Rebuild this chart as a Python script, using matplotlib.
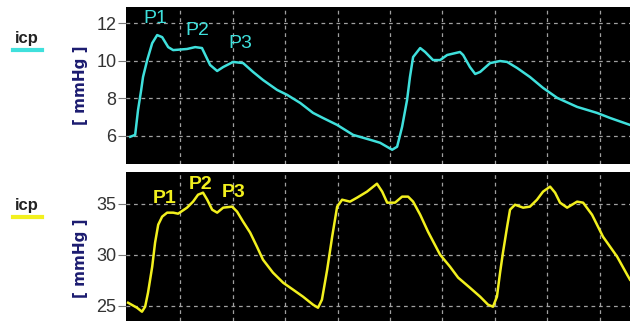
import numpy as np
import matplotlib
matplotlib.use("Agg")
from matplotlib import pyplot as plt

# time in seconds, pressure in mmHg
t_top = [0.008, 0.027, 0.038, 0.050, 0.057, 0.073, 0.092, 0.111, 0.130, 0.153,
         0.172, 0.225, 0.256, 0.282, 0.313, 0.340, 0.363, 0.401, 0.439, 0.477,
         0.515, 0.569, 0.607, 0.657, 0.706, 0.744, 0.798, 0.859, 0.924, 0.962,
         1.008, 1.027, 1.046, 1.065, 1.076, 1.088, 1.115, 1.134, 1.164, 1.191,
         1.218, 1.267, 1.279, 1.305, 1.325, 1.344, 1.382, 1.420, 1.447, 1.485,
         1.534, 1.584, 1.638, 1.714, 1.790, 1.840, 1.916]
icp_top = [5.95, 6.05, 7.38, 8.44, 9.13, 10.03, 10.93, 11.36, 11.25, 10.72,
           10.56, 10.62, 10.72, 10.67, 9.77, 9.45, 9.66, 9.93, 9.87, 9.40,
           8.97, 8.44, 8.18, 7.75, 7.22, 6.95, 6.58, 6.05, 5.79, 5.63,
           5.26, 5.42, 6.48, 7.91, 9.13, 10.19, 10.67, 10.46, 10.03, 10.03,
           10.30, 10.46, 10.30, 9.66, 9.29, 9.40, 9.87, 9.98, 9.93, 9.61,
           9.13, 8.55, 8.02, 7.54, 7.22, 6.95, 6.58]

t_bot = [0.000, 0.034, 0.053, 0.065, 0.076, 0.092, 0.103, 0.115, 0.130, 0.149,
         0.172, 0.191, 0.225, 0.248, 0.267, 0.286, 0.302, 0.321, 0.340, 0.363,
         0.397, 0.416, 0.439, 0.466, 0.492, 0.515, 0.553, 0.592, 0.630, 0.668,
         0.706, 0.725, 0.740, 0.760, 0.779, 0.798, 0.817, 0.847, 0.874, 0.912,
         0.950, 0.970, 0.989, 1.019, 1.046, 1.069, 1.088, 1.115, 1.145, 1.191,
         1.229, 1.260, 1.305, 1.344, 1.374, 1.393, 1.408, 1.420, 1.431, 1.447,
         1.458, 1.477, 1.508, 1.534, 1.561, 1.584, 1.611, 1.630, 1.649, 1.676,
         1.714, 1.737, 1.771, 1.813, 1.867, 1.905, 1.916]
icp_bot = [25.29, 24.80, 24.41, 24.90, 26.27, 28.82, 31.18, 32.94, 33.73, 34.12,
           34.12, 34.02, 34.61, 35.20, 35.88, 36.08, 35.39, 34.41, 34.12, 34.61,
           34.71, 34.22, 33.24, 32.16, 30.78, 29.51, 28.24, 27.25, 26.57, 25.88,
           25.10, 24.80, 25.59, 28.53, 31.76, 34.71, 35.39, 35.20, 35.59, 36.18,
           36.96, 36.18, 35.10, 35.10, 35.69, 35.69, 35.20, 33.92, 32.25, 30.00,
           28.82, 27.75, 26.76, 25.88, 25.10, 24.90, 25.88, 28.24, 30.20, 32.75,
           34.41, 34.90, 34.61, 34.71, 35.39, 36.18, 36.67, 36.08, 35.10, 34.61,
           35.20, 35.10, 33.92, 31.76, 29.80, 28.04, 27.55]

yticks_top = [6, 8, 10, 12]
yticks_bot = [25, 30, 35]
peak_labels = ["P1", "P2", "P3"]

cyan = "#3fe0dc"
yellow = "#f2f01e"
navy = "#1c1c70"
narrow = ["Liberation Sans", "DejaVu Sans"]

fig = plt.figure(figsize=(6.3, 3.21), dpi=100)
ax1 = fig.add_axes([0.2, 0.489, 0.8, 0.489])
ax2 = fig.add_axes([0.2, 0.0, 0.8, 0.464])


def style_panel(ax, yticks, ylim):
    ax.set_facecolor("black")
    ax.set_xlim(-0.008, 1.916)
    ax.set_ylim(*ylim)
    ax.set_yticks(yticks)
    ax.set_xticks(np.arange(0.2, 1.9, 0.2))
    ax.set_xticklabels([])
    ax.tick_params(axis="x", length=0)
    ax.tick_params(axis="y", length=6, color="#777777", labelcolor="#333333",
                   labelsize=13, pad=1)
    for lab in ax.get_yticklabels():
        lab.set_family(narrow)
    ax.grid(True, color="#a0a0a0", linestyle=(0, (3, 3)), linewidth=0.9)
    for sp in ax.spines.values():
        sp.set_visible(False)


# top panel
style_panel(ax1, yticks_top, (4.5, 12.85))
ax1.plot(t_top, icp_top, color=cyan, linewidth=1.8)
for lab, x, y in zip(peak_labels, [0.103, 0.263, 0.427], [12.25, 11.6, 10.9]):
    ax1.text(x, y, lab, color=cyan, fontsize=14, ha="center", va="center",
             family=narrow)

# bottom panel
style_panel(ax2, yticks_bot, (23.5, 38.1))
ax2.plot(t_bot, icp_bot, color=yellow, linewidth=1.8)
for lab, x, y in zip(peak_labels, [0.141, 0.275, 0.401], [35.5, 36.85, 36.1]):
    ax2.text(x, y, lab, color=yellow, fontsize=14, ha="center", va="center",
             family=narrow, fontweight="bold")

# channel names and units on the left
for yc, col in [(0.88, cyan), (0.36, yellow)]:
    fig.text(0.043, yc, "icp", color="#222222", fontsize=12, ha="center",
             va="center", family=narrow, fontweight="bold")
    fig.add_artist(plt.Line2D([0.02, 0.067], [yc - 0.037, yc - 0.037],
                              color=col, linewidth=3, transform=fig.transFigure))

fig.text(0.128, 0.735, "[ mmHg ]", color=navy, fontsize=11, fontweight="bold",
         rotation=90, ha="center", va="center")
fig.text(0.128, 0.195, "[ mmHg ]", color=navy, fontsize=11, fontweight="bold",
         rotation=90, ha="center", va="center")

fig.savefig("out.png", dpi=100)
